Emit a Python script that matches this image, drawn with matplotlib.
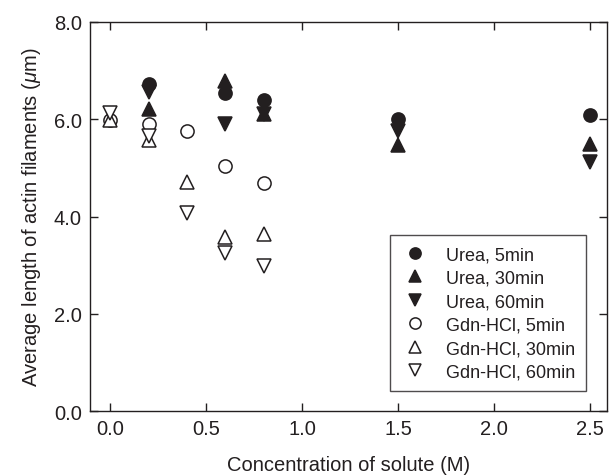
import matplotlib
matplotlib.use("Agg")
import matplotlib.pyplot as plt
import matplotlib.ticker as mticker

INK = "#231f20"
plt.rcParams.update({
    "font.family": ["Liberation Sans", "DejaVu Sans"],
    "font.size": 14,
    "axes.linewidth": 1.0,
    "axes.edgecolor": INK,
    "text.color": INK,
    "axes.labelcolor": INK,
    "xtick.color": INK,
    "ytick.color": INK,
    "mathtext.fontset": "custom",
    "mathtext.it": "Liberation Sans:italic",
    "mathtext.rm": "Liberation Sans",
})

# ---- data -------------------------------------------------------------------
urea_x = [0.2, 0.6, 0.8, 1.5, 2.5]
urea_5 = [6.72, 6.53, 6.39, 6.00, 6.08]
urea_30 = [6.22, 6.78, 6.10, 5.48, 5.50]
urea_60 = [6.55, 5.90, 6.10, 5.76, 5.12]

gdn_x = [0.0, 0.2, 0.4, 0.6, 0.8]
gdn_5 = [5.98, 5.90, 5.75, 5.04, 4.68]
gdn_30 = [5.98, 5.57, 4.70, 3.57, 3.65]
gdn_60 = [6.13, 5.66, 4.08, 3.26, 2.99]

SERIES = [
    (urea_x, urea_5, "o", True, "Urea, 5min"),
    (urea_x, urea_30, "^", True, "Urea, 30min"),
    (urea_x, urea_60, "v", True, "Urea, 60min"),
    (gdn_x, gdn_5, "o", False, "Gdn-HCl, 5min"),
    (gdn_x, gdn_30, "^", False, "Gdn-HCl, 30min"),
    (gdn_x, gdn_60, "v", False, "Gdn-HCl, 60min"),
]

fig = plt.figure(figsize=(6.09, 4.77), dpi=100)
ax = fig.add_axes([0.148, 0.136, 0.849, 0.816])

for xs, ys, mk, filled, lab in SERIES:
    ax.plot(xs, ys, linestyle="none", marker=mk, markersize=9.5,
            markerfacecolor=INK if filled else "white",
            markeredgecolor=INK, markeredgewidth=1.1, label=lab)

ax.set_xlim(-0.105, 2.59)
ax.set_ylim(0, 8)
ax.xaxis.set_major_locator(mticker.MultipleLocator(0.5))
ax.yaxis.set_major_locator(mticker.MultipleLocator(2.0))
ax.xaxis.set_major_formatter(mticker.FormatStrFormatter("%.1f"))
ax.yaxis.set_major_formatter(mticker.FormatStrFormatter("%.1f"))
ax.tick_params(direction="in", length=6, width=1, top=True, right=True,
               labelsize=14.5, pad=6)

ax.set_xlabel("Concentration of solute (M)", fontsize=14.5, labelpad=12)
ax.set_ylabel(r"Average length of actin filaments ($\mu$m)", fontsize=14.5,
              labelpad=8)

leg = ax.legend(loc="upper left", bbox_to_anchor=(0.58, 0.452), fontsize=13,
                frameon=True, fancybox=False, edgecolor=INK,
                handletextpad=0.9, labelspacing=0.36, borderpad=0.6,
                handlelength=1.6, markerscale=0.85, borderaxespad=0)
leg.get_frame().set_linewidth(1.0)

fig.savefig("out.png", dpi=100)
